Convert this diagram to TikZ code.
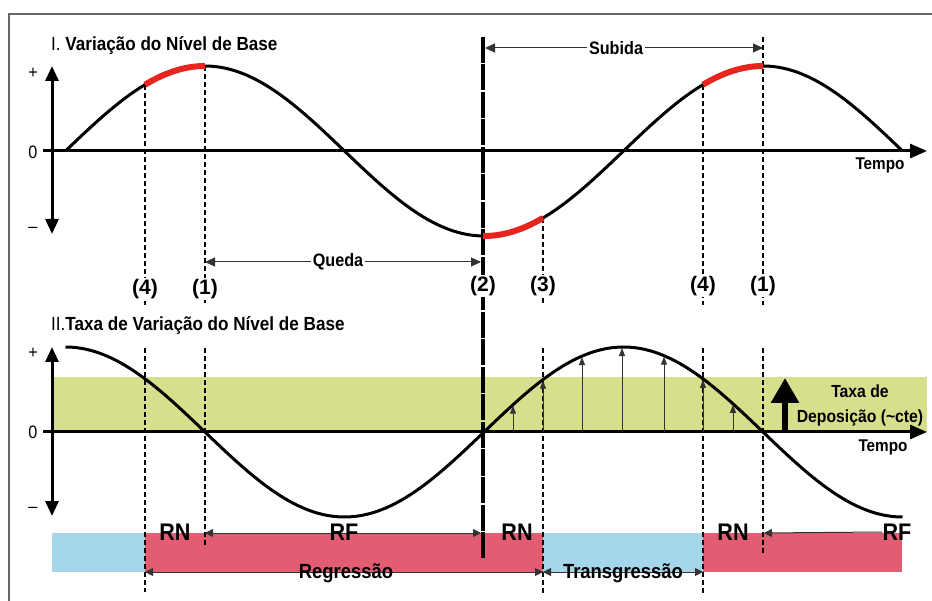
\documentclass[tikz,border=0pt]{standalone}
\usepackage{fontspec}
\setmainfont{Liberation Sans}[FakeStretch=0.9]
\newfontfamily\lblfont{Liberation Sans}
\usetikzlibrary{arrows.meta}
\definecolor{bandgreen}{HTML}{D8DF8C}
\definecolor{barblue}{HTML}{A6D6EC}
\definecolor{barred}{HTML}{E25C72}
\definecolor{hired}{HTML}{E8241E}
\definecolor{framegray}{HTML}{666666}
\definecolor{arrgray}{HTML}{333333}
\begin{document}
\begin{tikzpicture}[x=1pt,y=-1pt,
  declare function={fa(\x)=151-85*sin(0.645161*(\x-65.5)); fb(\x)=432-85*cos(0.645161*(\x-65.5));},
  vaxis/.style={line width=3pt,{Triangle[length=15pt,width=13pt]}-{Triangle[length=15pt,width=13pt]}},
  haxis/.style={line width=3pt,-{Triangle[length=17pt,width=14pt]}},
  curve/.style={line width=3pt,black},
  hilite/.style={line width=6pt,hired},
  thindash/.style={line width=1.2pt,dash pattern=on 5pt off 3pt},
  dimarrow/.style={line width=1pt,arrgray,{Triangle[length=10pt,width=9pt]}-{Triangle[length=10pt,width=9pt]}},
  barrow/.style={line width=1pt,arrgray,{Triangle[length=8pt,width=8pt]}-{Triangle[length=8pt,width=8pt]}},
  lbarrow/.style={line width=1pt,arrgray,{Triangle[length=8pt,width=8pt]}-},
  smallarrow/.style={line width=0.9pt,arrgray,-{Triangle[length=8pt,width=6pt]}},
  pmlabel/.style={font=\fontsize{18}{18}\selectfont},
  numlabel/.style={font=\lblfont\bfseries\fontsize{21}{21}\selectfont,fill=white,inner sep=1pt},
  midlabel/.style={font=\bfseries\fontsize{18}{18}\selectfont,fill=white,inner sep=2pt},
  tempo/.style={font=\bfseries\fontsize{17}{17}\selectfont},
  regime/.style={font=\bfseries\fontsize{24}{24}\selectfont,inner sep=0pt},
  trend/.style={font=\bfseries\fontsize{20.5}{20.5}\selectfont,inner sep=0pt},
  title/.style={font=\fontsize{19}{19}\selectfont,anchor=west,inner sep=0pt}]
\useasboundingbox (0,0) rectangle (932,601);
% frame
\draw[framegray,line width=1.5pt] (9,601) -- (9,14) -- (932,14);
% backgrounds
\fill[bandgreen] (52,377) rectangle (927,432);
\fill[barblue] (52,533) rectangle (145,572);
\fill[barred] (145,533) rectangle (543,572);
\fill[barblue] (543,533) rectangle (703,572);
\fill[barred] (703,533) rectangle (902,572);
% dashed verticals panel I
\draw[thindash] (145,{fa(145)}) -- (145,305);
\draw[thindash] (205,{fa(205)}) -- (205,305);
\draw[thindash] (543,{fa(543)}) -- (543,305);
\draw[thindash] (703,{fa(703)}) -- (703,305);
\draw[thindash] (763,37) -- (763,305);
% dashed verticals panel II
\draw[thindash] (145,348) -- (145,592);
\draw[thindash] (205,348) -- (205,548);
\draw[thindash] (543,348) -- (543,593);
\draw[thindash] (703,348) -- (703,593);
\draw[thindash] (763,348) -- (763,553);
% thick divider
\draw[line width=4pt,dash pattern=on 26pt off 1.5pt] (483,37) -- (483,558);
% axes
\draw[vaxis] (52,66) -- (52,234);
\draw[haxis] (43,151) -- (927,151);
\draw[vaxis] (52,347) -- (52,516);
\draw[haxis] (43,432) -- (927,432);
% curves
\draw[curve] plot[domain=65.5:902.5,samples=240] (\x,{fa(\x)});
\draw[hilite] plot[domain=145:205,samples=30] (\x,{fa(\x)});
\draw[hilite] plot[domain=483:543,samples=30] (\x,{fa(\x)});
\draw[hilite] plot[domain=703:763,samples=30] (\x,{fa(\x)});
\draw[curve] plot[domain=65.5:902.5,samples=240] (\x,{fb(\x)});
% small arrows
\foreach \xx in {513,543,582,622,664,703,733}{
  \coordinate (sb\xx) at (\xx,432);
  \coordinate (st\xx) at (\xx,{fb(\xx)+1});
  \draw[smallarrow] (sb\xx) -- (st\xx);
}
% big deposition arrow
\coordinate (dep0) at (785,432);
\coordinate (dep1) at (785,378);
\draw[line width=6pt,-{Triangle[length=25pt,width=27pt]}] (dep0) -- (dep1);
\node[font=\bfseries\fontsize{17.5}{25}\selectfont,align=center] (dep) at (860,405.5) {Taxa de\\Deposição (\textasciitilde cte)};
% titles
\node[title] (t1) at (51,46) {I. \textbf{Variação do Nível de Base}};
\node[title] (t2) at (51,326) {II.\textbf{Taxa de Variação do Nível de Base}};
% axis labels
\node[pmlabel] (p1) at (33,73) {+};
\node[pmlabel] (z1) at (33,152) {0};
\node[pmlabel] (m1) at (33,230) {–};
\node[pmlabel] (p2) at (33,353) {+};
\node[pmlabel] (z2) at (33,432) {0};
\node[pmlabel] (m2) at (33,510) {–};
\node[tempo] (tp1) at (880,165) {Tempo};
\node[tempo] (tp2) at (883,447) {Tempo};
% Queda / Subida
\coordinate (qa) at (205,262);
\coordinate (qb) at (481,262);
\draw[dimarrow] (qa) -- (qb);
\node[midlabel] (queda) at (338,262) {Queda};
\coordinate (sa) at (485,48);
\coordinate (sbb) at (763,48);
\draw[dimarrow] (sa) -- (sbb);
\node[midlabel] (subida) at (616,48) {Subida};
% numbered labels
\node[numlabel] (n4a) at (145,289) {(4)};
\node[numlabel] (n1a) at (205,289) {(1)};
\node[numlabel] (n2) at (483,286) {(2)};
\node[numlabel] (n3) at (543,286) {(3)};
\node[numlabel] (n4b) at (703,286) {(4)};
\node[numlabel] (n1b) at (763,286) {(1)};
% RN / RF arrows
\coordinate (ra) at (205,533);
\coordinate (rb) at (481,533);
\draw[barrow] (ra) -- (rb);
\node[regime] (rf1) at (344,532) {RF};
\node[regime] (rn1) at (175,532) {RN};
\node[regime] (rn2) at (517,532) {RN};
\node[regime] (rn3) at (733,532) {RN};
\node[regime] (rf2) at (897,532) {RF};
\coordinate (rc) at (764,533);
\draw[lbarrow] (rc) -- (rf2.west);
% Regressão / Transgressão
\coordinate (ga) at (145,572);
\coordinate (gb) at (543,572);
\coordinate (gc) at (703,572);
\draw[barrow] (ga) -- (gb);
\draw[barrow] (gb) -- (gc);
\node[trend] (reg) at (346,573) {Regressão};
\node[trend] (trans) at (623,573) {Transgressão};
\end{tikzpicture}
\end{document}
